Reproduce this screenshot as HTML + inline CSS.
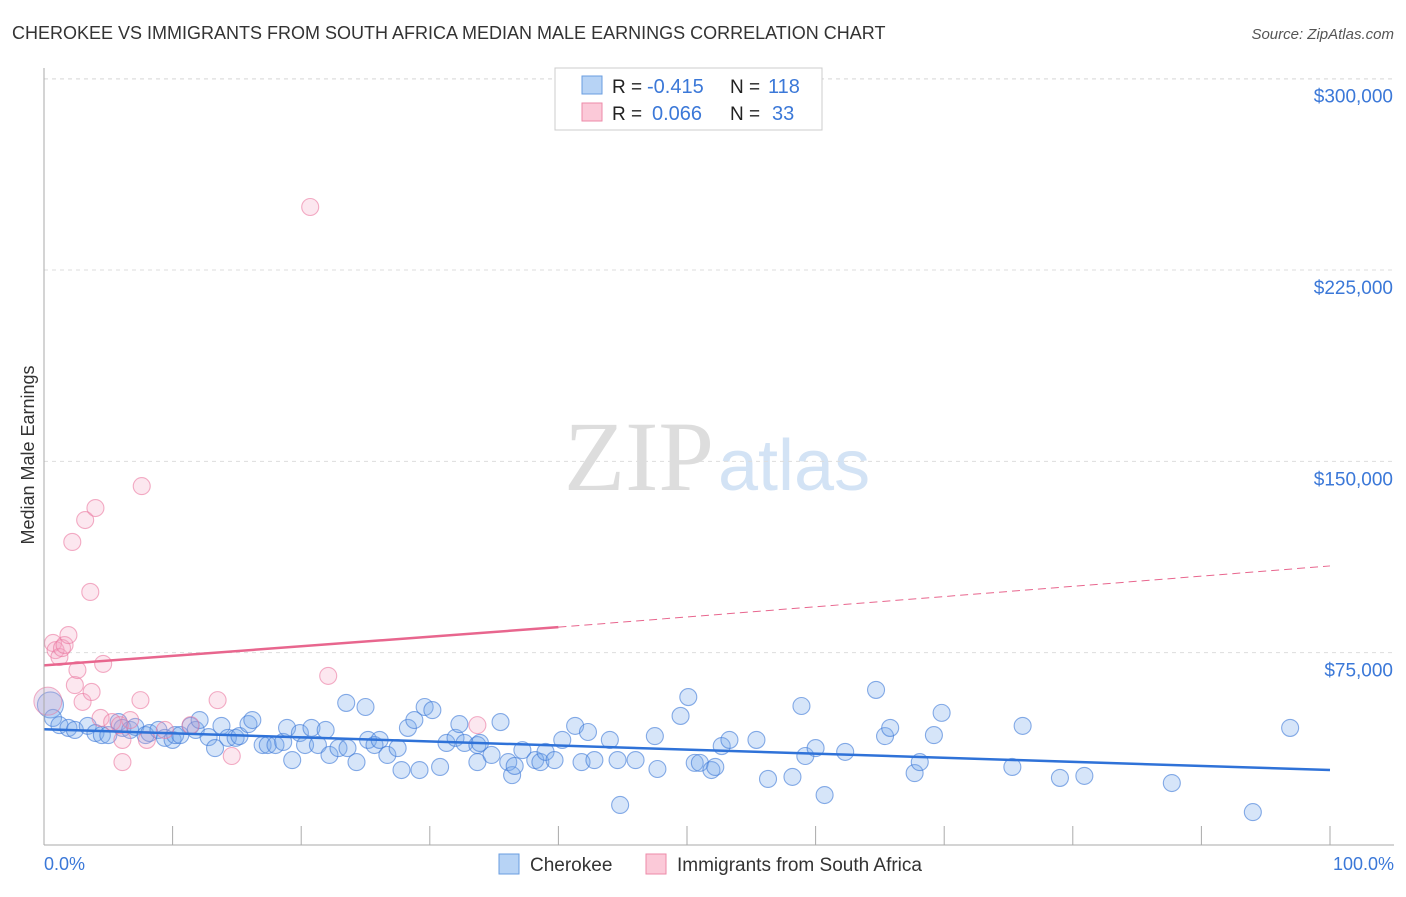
<!DOCTYPE html>
<html><head><meta charset="utf-8"><style>
body{margin:0;background:#fff;font-family:"Liberation Sans",sans-serif;}
svg text{font-family:"Liberation Sans",sans-serif;}
</style></head><body>
<svg id="c" width="1406" height="892">
<text x="12" y="39" font-size="18" fill="#333">CHEROKEE VS IMMIGRANTS FROM SOUTH AFRICA MEDIAN MALE EARNINGS CORRELATION CHART</text>
<text x="1394" y="39" font-size="15" fill="#555" font-style="italic" text-anchor="end">Source: ZipAtlas.com</text>
<text x="34" y="455" font-size="18" fill="#333" transform="rotate(-90 34 455)" text-anchor="middle">Median Male Earnings</text>
<text x="714" y="490" font-size="100" fill="#ddd" text-anchor="end" style="font-family:'Liberation Serif',serif">ZIP</text>
<text x="718" y="490" font-size="72" fill="#d3e3f5">atlas</text>
<g id="grid"></g><g id="pts"></g><g id="lines"></g>
<line x1="44" y1="68" x2="44" y2="845" stroke="#aaa"/>
<line x1="44" y1="845" x2="1394" y2="845" stroke="#aaa"/>
<text x="44" y="870" font-size="18" fill="#3b78d8">0.0%</text>
<text x="1394" y="870" font-size="18" fill="#3b78d8" text-anchor="end">100.0%</text>
<g>
<rect x="555" y="68" width="267" height="62" fill="#fff" stroke="#ccc"/>
<rect x="582" y="76" width="20" height="18" fill="#b7d3f5" stroke="#6a9ee0"/>
<rect x="582" y="103" width="20" height="18" fill="#fbc9d8" stroke="#ee8aa8"/>
<text x="612" y="93" font-size="19" fill="#222">R =</text>
<text x="647" y="93" font-size="20" fill="#3b78d8">-0.415</text>
<text x="730" y="93" font-size="19" fill="#222">N =</text>
<text x="768" y="93" font-size="20" fill="#3b78d8">118</text>
<text x="612" y="120" font-size="19" fill="#222">R =</text>
<text x="652" y="120" font-size="20" fill="#3b78d8">0.066</text>
<text x="730" y="120" font-size="19" fill="#222">N =</text>
<text x="772" y="120" font-size="20" fill="#3b78d8">33</text>
</g>
<g>
<rect x="499" y="854" width="20" height="20" fill="#b7d3f5" stroke="#6a9ee0"/>
<text x="530" y="871" font-size="19" fill="#333">Cherokee</text>
<rect x="646" y="854" width="20" height="20" fill="#fbc9d8" stroke="#ee8aa8"/>
<text x="677" y="871" font-size="19" fill="#333">Immigrants from South Africa</text>
</g>
</svg>
<script>
const yTicks=[75000,150000,225000,300000];
const yTickLabels=["$75,000","$150,000","$225,000","$300,000"];
const xTicks=[0,10,20,30,40,50,60,70,80,90,100];
const bluePx=[[50,705],[53,718],[60,725],[68,728],[75,730],[88,726],[95,733],[102,735],[108,735],[118,722],[122,728],[130,730],[135,727],[145,735],[150,733],[158,730],[165,738],[172,740],[175,735],[180,735],[190,726],[196,730],[200,720],[208,737],[215,748],[222,726],[228,738],[235,738],[240,736],[248,724],[252,720],[262,745],[268,745],[275,745],[283,742],[287,728],[292,760],[300,733],[305,745],[312,728],[318,745],[325,730],[330,755],[338,748],[348,748],[346,703],[357,762],[365,707],[368,740],[375,745],[380,740],[388,755],[398,748],[402,770],[408,728],[415,720],[420,770],[425,707],[432,710],[440,767],[447,743],[455,738],[460,724],[465,743],[477,762],[478,745],[480,743],[492,755],[500,722],[508,762],[512,775],[515,766],[522,750],[535,760],[540,762],[545,752],[555,760],[562,740],[575,726],[582,762],[588,732],[595,760],[610,740],[617,760],[620,805],[636,760],[655,736],[658,769],[680,716],[688,697],[695,763],[700,763],[712,770],[715,767],[722,746],[730,740],[756,740],[768,779],[792,777],[801,706],[805,756],[815,748],[825,795],[845,752],[876,690],[885,736],[890,728],[914,773],[920,762],[934,735],[942,713],[1013,767],[1023,726],[1060,778],[1084,776],[1172,783],[1253,812],[1290,728]];
const pinkPx=[[53,643],[55,650],[60,657],[62,648],[65,645],[68,635],[75,685],[77,670],[82,702],[92,692],[72,542],[85,520],[95,508],[90,592],[103,664],[100,718],[112,722],[120,725],[122,740],[123,762],[130,720],[140,700],[142,486],[147,740],[165,730],[190,725],[218,700],[232,756],[310,207],[328,676],[478,725]];
const cherokeeX=bluePx.map(p=>+((p[0]-44)/12.86).toFixed(1));
const cherokeeY=bluePx.map(p=>Math.round((844-p[1])*392/100)*100);
const saX=pinkPx.map(p=>+((p[0]-44)/12.86).toFixed(1));
const saY=pinkPx.map(p=>Math.round((844-p[1])*392/100)*100);
const blueTrend=[[0,45000],[100,29000]];
const pinkTrend=[[0,70000],[40,85000],[100,109000]];
const X=v=>44+v*12.86, Y=v=>844-v/392;
const NS="http://www.w3.org/2000/svg";
function mk(t,a,parent){const e=document.createElementNS(NS,t);for(const k in a)e.setAttribute(k,a[k]);document.getElementById(parent).appendChild(e);return e;}
yTicks.forEach((v,i)=>{
 const l=mk('line',{x1:44,x2:1394,y1:Y(v),y2:Y(v),stroke:'#ddd','stroke-dasharray':'4,4'},'grid');
 
 
 const t=mk('text',{x:1393,y:Y(v)+24,'font-size':19,fill:'#3b78d8','text-anchor':'end'},'grid');
 t.textContent=yTickLabels[i];
 
 
});
mk('line',{x1:44,x2:1394,y1:79,y2:79,stroke:'#ddd','stroke-dasharray':'4,4'},'grid');
xTicks.forEach(v=>{
 const l=mk('line',{x1:X(v),x2:X(v),y1:826,y2:845,stroke:'#aaa'},'grid');
 
 
});
cherokeeX.forEach((x,i)=>{
 const c=mk('circle',{cx:X(x),cy:Y(cherokeeY[i]),r:i==0?13:8.5,fill:'rgba(120,170,235,0.3)',stroke:'rgba(60,120,215,0.6)','stroke-width':1.1},'pts');
 
 
});
saX.forEach((x,i)=>{
 const c=mk('circle',{cx:X(x),cy:Y(saY[i]),r:8.5,fill:'rgba(245,160,190,0.25)',stroke:'rgba(235,120,160,0.6)','stroke-width':1.1},'pts');
 
 
});
const bc=mk('circle',{cx:X(0.3),cy:Y(56000),r:14,fill:'rgba(200,170,210,0.35)',stroke:'rgba(235,120,160,0.6)'},'pts');


const bl=mk('line',{x1:X(blueTrend[0][0]),y1:Y(blueTrend[0][1]),x2:X(blueTrend[1][0]),y2:Y(blueTrend[1][1]),stroke:'#2f72d8','stroke-width':2.5},'lines');


const pl=mk('line',{x1:X(pinkTrend[0][0]),y1:Y(pinkTrend[0][1]),x2:X(pinkTrend[1][0]),y2:Y(pinkTrend[1][1]),stroke:'#e8668e','stroke-width':2.5},'lines');


const pd=mk('line',{x1:X(pinkTrend[1][0]),y1:Y(pinkTrend[1][1]),x2:X(pinkTrend[2][0]),y2:Y(pinkTrend[2][1]),stroke:'#e8668e','stroke-width':1,'stroke-dasharray':'8,5'},'lines');


</script>
</body></html>
